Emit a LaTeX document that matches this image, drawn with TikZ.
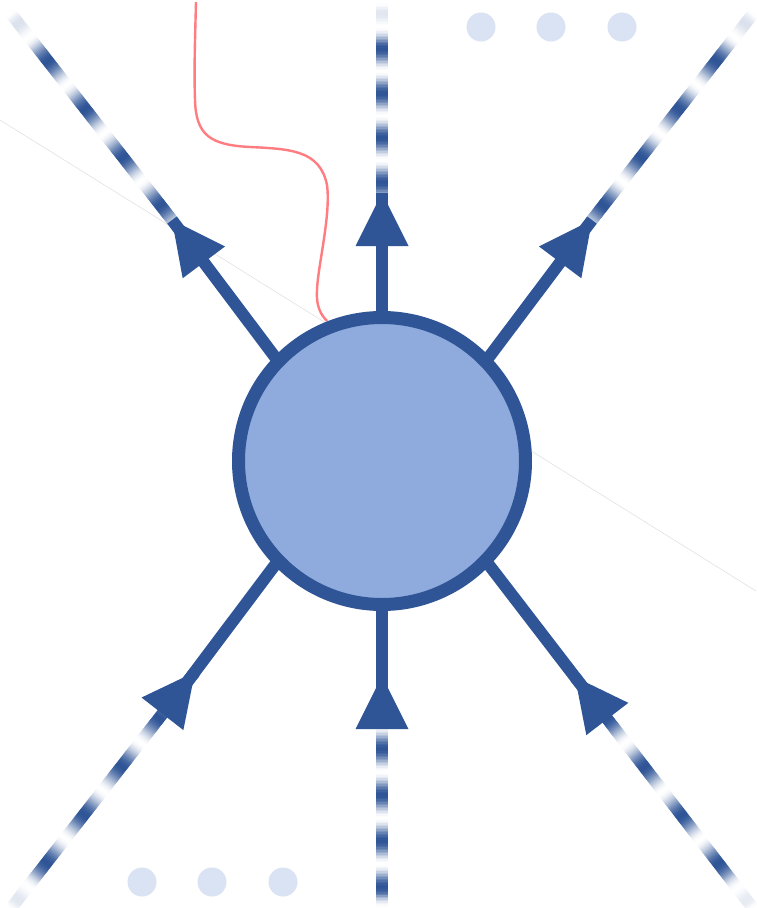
\documentclass[tikz,border=0pt]{standalone}
\usetikzlibrary{calc}
\definecolor{lineblue}{HTML}{2F5597}
\definecolor{circfill}{HTML}{8FAADC}
\definecolor{dotc}{HTML}{DAE3F3}
\definecolor{redc}{HTML}{FF7C80}
\definecolor{faint}{HTML}{DEDEDE}
\tikzset{
  gl/.style={line width=12pt, line cap=butt},
  solidspoke/.style={line width=12pt, draw=lineblue, line cap=butt},
  headfill/.style={fill=lineblue},
  dotdeco/.style={fill=dotc},
  blob/.style={circle, draw=lineblue, fill=circfill, line width=13pt, minimum size=287pt, inner sep=0pt},
  wavy/.style={draw=redc, line width=2.4pt},
  hair/.style={draw=faint, line width=0.5pt}
}
% #1 start, #2 toward, #3 length, #4 period, #5 dark offset, #6 fade length
\newcommand{\fadeline}[6]{%
  \foreach \s in {0,1.5,...,#3}{%
    \pgfmathsetmacro{\ph}{(\s-#5)/#4}%
    \pgfmathsetmacro{\ww}{max(0,0.5-0.5*cos(360*(\ph-floor(\ph))))}%
    \pgfmathsetmacro{\pp}{max(0,min(100,100*(1-\ww)*min(1,(#3-\s)/#6)))}%
    \pgfmathsetmacro{\se}{\s+2.2}%
    \draw[gl, draw=lineblue!\pp!white] ($(#1)!\s pt!(#2)$) -- ($(#1)!\se pt!(#2)$);
  }}
\newcommand{\headout}[2]{% tip, point toward base
  \coordinate (hb) at ($(#1)!53pt!(#2)$);
  \fill[headfill] (#1) -- ($(hb)!26.5pt!90:(#1)$) -- ($(hb)!26.5pt!-90:(#1)$) -- cycle;}
\begin{document}
\begin{tikzpicture}[x=1pt,y=-1pt]
\useasboundingbox (0,0) rectangle (756,908);
\fill[white] (0,0) rectangle (756,908);

% coordinates
\coordinate (T1) at (172,220); \coordinate (O1) at (12,15);   \coordinate (P1) at (275,357);
\coordinate (T2) at (592,220); \coordinate (O2) at (752,15);  \coordinate (P2) at (489,357);
\coordinate (T3) at (382,193); \coordinate (O3) at (382,5);   \coordinate (P3) at (382,313);
\coordinate (T4) at (195,672); \coordinate (O4) at (12,907);  \coordinate (P4) at (275,565);
\coordinate (T5) at (575,677); \coordinate (O5) at (752,907); \coordinate (P5) at (489,565);
\coordinate (T6) at (382,676); \coordinate (O6) at (382,908); \coordinate (P6) at (382,610);
\coordinate (H1) at (0,120); \coordinate (H2) at (756,591);
\coordinate (R0) at (196,2); \coordinate (R5) at (327,321);

% faint line
\draw[hair] (H1) -- (H2);

% red wavy line
\draw[wavy] (R0) .. controls (195,40) and (194,70) .. (195,100)
  .. controls (196,135) and (210,145) .. (250,147)
  .. controls (290,149) and (320,150) .. (327,185)
  .. controls (331,215) and (318,265) .. (317,290)
  .. controls (316,305) and (320,314) .. (R5);

% fading dashed parts
\fadeline{T1}{O1}{260}{61}{18}{40}
\fadeline{T2}{O2}{260}{61}{18}{40}
\fadeline{T3}{O3}{188}{44.5}{10}{40}
\fadeline{T4}{O4}{298}{61}{58}{40}
\fadeline{T5}{O5}{290}{61}{52}{40}
\fadeline{T6}{O6}{232}{46}{26}{15}

% solid spokes
\draw[solidspoke] (T1) -- ($(P1)!-15pt!(T1)$);
\draw[solidspoke] (T2) -- ($(P2)!-15pt!(T2)$);
\draw[solidspoke] (T3) -- ($(P3)!-15pt!(T3)$);
\draw[solidspoke] ($(T4)!16pt!(O4)$) -- ($(P4)!-15pt!(T4)$);
\draw[solidspoke] ($(T5)!16pt!(O5)$) -- ($(P5)!-15pt!(T5)$);
\draw[solidspoke] ($(T6)!16pt!(O6)$) -- ($(P6)!-15pt!(T6)$);

% central blob
\node[blob] (c) at (382,461) {};

% arrowheads
\headout{T1}{P1}
\headout{T2}{P2}
\headout{T3}{P3}
\headout{T4}{O4}
\headout{T5}{O5}
\headout{T6}{O6}

% dots
\fill[dotdeco] (481,27) circle (14.5pt);
\fill[dotdeco] (551,27) circle (14.5pt);
\fill[dotdeco] (622,27) circle (14.5pt);
\fill[dotdeco] (142,882) circle (14.5pt);
\fill[dotdeco] (212,882) circle (14.5pt);
\fill[dotdeco] (283,882) circle (14.5pt);
\end{tikzpicture}
\end{document}
